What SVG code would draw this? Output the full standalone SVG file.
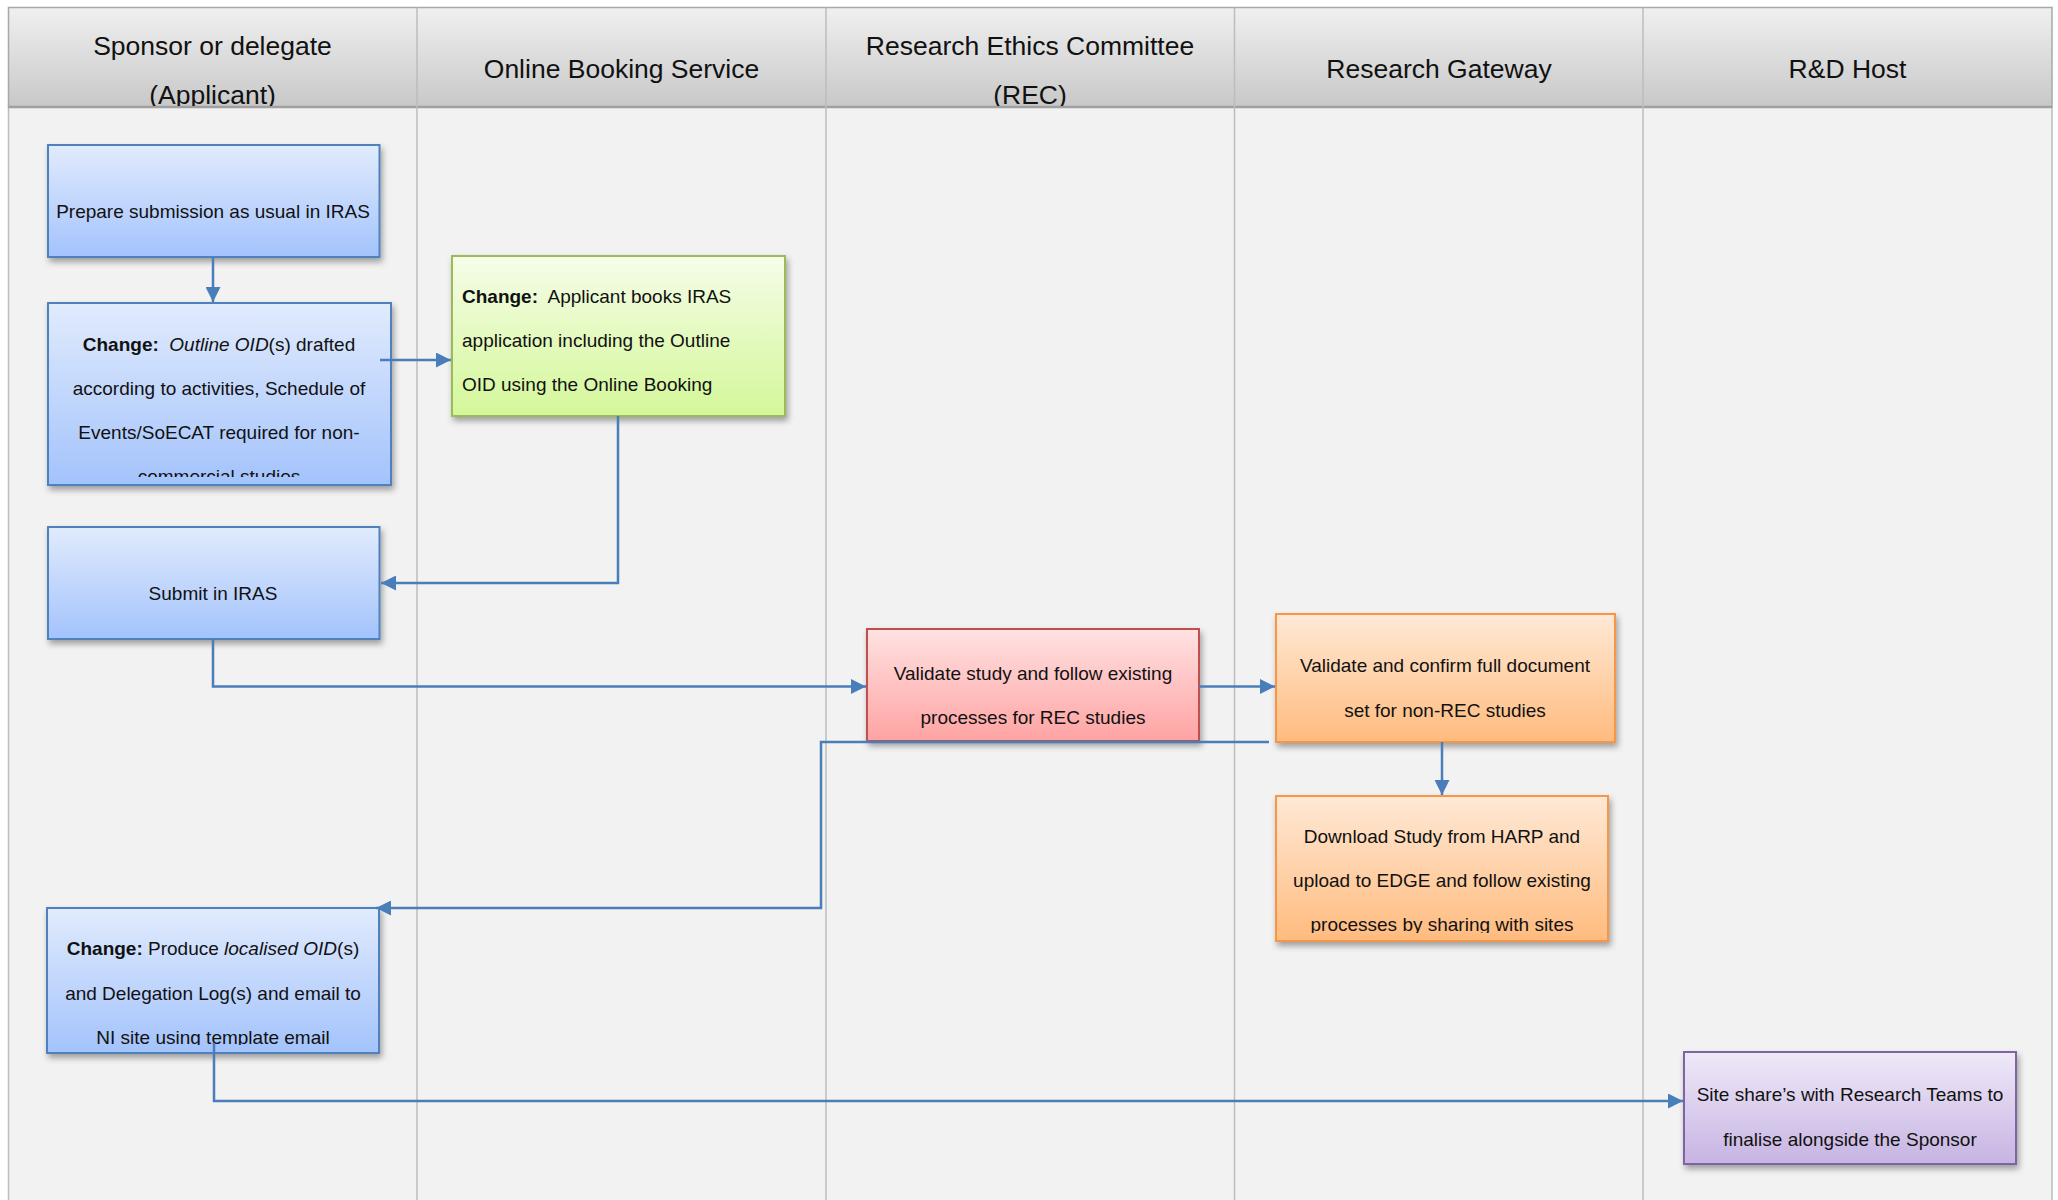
<svg xmlns="http://www.w3.org/2000/svg" width="2058" height="1200" viewBox="0 0 2058 1200">
<style>
.hdr{font-family:"Liberation Sans",Arial,sans-serif;font-size:26.5px;fill:#111;text-anchor:middle}
.t{font-family:"Liberation Sans",Arial,sans-serif;font-size:19px;fill:#111;text-anchor:middle}
.tl{font-family:"Liberation Sans",Arial,sans-serif;font-size:19px;fill:#111}
.b{font-weight:bold}
.i{font-style:italic}
.div{stroke:#bdbdbd;stroke-width:1.5}
.con{fill:none;stroke:#4a7ebb;stroke-width:2.5}
.box{stroke-width:2}
</style>
<defs>
<linearGradient id="gHdr" x1="0" y1="0" x2="0" y2="1"><stop offset="0" stop-color="#f0f0f0"/><stop offset="1" stop-color="#c8c8c8"/></linearGradient>
<linearGradient id="gBlue" x1="0" y1="0" x2="0" y2="1"><stop offset="0" stop-color="#e1ebfd"/><stop offset="1" stop-color="#a3c3fc"/></linearGradient>
<linearGradient id="gGreen" x1="0" y1="0" x2="0" y2="1"><stop offset="0" stop-color="#f5fde8"/><stop offset="1" stop-color="#d4f799"/></linearGradient>
<linearGradient id="gRed" x1="0" y1="0" x2="0" y2="1"><stop offset="0" stop-color="#ffe2e2"/><stop offset="1" stop-color="#ffa3a3"/></linearGradient>
<linearGradient id="gOrange" x1="0" y1="0" x2="0" y2="1"><stop offset="0" stop-color="#ffe9d6"/><stop offset="1" stop-color="#ffbb7e"/></linearGradient>
<linearGradient id="gPurple" x1="0" y1="0" x2="0" y2="1"><stop offset="0" stop-color="#efe9f8"/><stop offset="1" stop-color="#c7b4e3"/></linearGradient>
<filter id="sh" x="-10%" y="-10%" width="120%" height="130%"><feDropShadow dx="2" dy="4" stdDeviation="3" flood-color="#000" flood-opacity="0.35"/></filter>
<marker id="ah" viewBox="0 0 10 10" refX="10" refY="5" markerWidth="6.4" markerHeight="6" markerUnits="strokeWidth" orient="auto"><path d="M0,0 L10,5 L0,10 z" fill="#4a7ebb"/></marker>
<clipPath id="cHdr"><rect x="0" y="0" width="2058" height="106"/></clipPath>
<clipPath id="cB2"><rect x="40" y="300" width="360" height="177"/></clipPath>
<clipPath id="cO2"><rect x="1270" y="790" width="345" height="143"/></clipPath>
<clipPath id="cB4"><rect x="40" y="905" width="345" height="140"/></clipPath>
</defs>

<rect x="0" y="0" width="2058" height="1200" fill="#ffffff"/>
<g id="lanes">
<rect x="8.5" y="107" width="2043.5" height="1100" fill="#f2f2f2" stroke="#bdbdbd" stroke-width="1.5"/>
<rect x="8.5" y="7.5" width="2043.5" height="99.5" fill="url(#gHdr)" stroke="#a8a8a8" stroke-width="1.5"/>
<line x1="8.5" y1="107" x2="2052" y2="107" stroke="#a0a0a0" stroke-width="2.5"/>
<line class="div" x1="417" y1="7.5" x2="417" y2="1200"/>
<line class="div" x1="826" y1="7.5" x2="826" y2="1200"/>
<line class="div" x1="1234.5" y1="7.5" x2="1234.5" y2="1200"/>
<line class="div" x1="1643" y1="7.5" x2="1643" y2="1200"/>
<g clip-path="url(#cHdr)">
<text class="hdr" x="212.5" y="55">Sponsor or delegate</text>
<text class="hdr" x="212.5" y="104">(Applicant)</text>
<text class="hdr" x="621.5" y="78">Online Booking Service</text>
<text class="hdr" x="1030" y="55">Research Ethics Committee</text>
<text class="hdr" x="1030" y="104">(REC)</text>
<text class="hdr" x="1439" y="78">Research Gateway</text>
<text class="hdr" x="1847.5" y="78">R&amp;D Host</text>
</g>
</g>

<g id="n1">
<rect class="box" x="48" y="145" width="331.5" height="112" fill="url(#gBlue)" stroke="#4f81bd" filter="url(#sh)"/>
<text class="t" x="213" y="218">Prepare submission as usual in IRAS</text>
</g>

<g id="n2">
<rect class="box" x="48" y="303" width="343" height="182" fill="url(#gBlue)" stroke="#4f81bd" filter="url(#sh)"/>
<g clip-path="url(#cB2)">
<text class="t" x="219" y="351" xml:space="preserve"><tspan class="b">Change:</tspan>  <tspan class="i">Outline OID</tspan>(s) drafted</text>
<text class="t" x="219" y="395">according to activities, Schedule of</text>
<text class="t" x="219" y="439">Events/SoECAT required for non-</text>
<text class="t" x="219" y="483">commercial studies</text>
</g>
</g>

<g id="n3">
<rect class="box" x="452" y="256" width="333" height="160" fill="url(#gGreen)" stroke="#9bbb59" filter="url(#sh)"/>
<text class="tl" x="462" y="303" xml:space="preserve"><tspan class="b">Change:</tspan>  Applicant books IRAS</text>
<text class="tl" x="462" y="347">application including the Outline</text>
<text class="tl" x="462" y="391">OID using the Online Booking</text>
</g>

<g id="n4">
<rect class="box" x="48" y="527" width="331.5" height="112" fill="url(#gBlue)" stroke="#4f81bd" filter="url(#sh)"/>
<text class="t" x="213" y="600">Submit in IRAS</text>
</g>

<g id="n5">
<rect class="box" x="867" y="629" width="332" height="112" fill="url(#gRed)" stroke="#c0504d" filter="url(#sh)"/>
<text class="t" x="1033" y="680">Validate study and follow existing</text>
<text class="t" x="1033" y="724">processes for REC studies</text>
</g>

<g id="n6">
<rect class="box" x="1276" y="614" width="339" height="128" fill="url(#gOrange)" stroke="#f79646" filter="url(#sh)"/>
<text class="t" x="1445" y="672">Validate and confirm full document</text>
<text class="t" x="1445" y="717">set for non-REC studies</text>
</g>

<g id="n7">
<rect class="box" x="1276" y="796" width="332" height="145" fill="url(#gOrange)" stroke="#f79646" filter="url(#sh)"/>
<g clip-path="url(#cO2)">
<text class="t" x="1442" y="843">Download Study from HARP and</text>
<text class="t" x="1442" y="887">upload to EDGE and follow existing</text>
<text class="t" x="1442" y="931">processes by sharing with sites</text>
</g>
</g>

<g id="n8">
<rect class="box" x="47" y="908" width="332" height="145" fill="url(#gBlue)" stroke="#4f81bd" filter="url(#sh)"/>
<g clip-path="url(#cB4)">
<text class="t" x="213" y="955"><tspan class="b">Change:</tspan> Produce <tspan class="i">localised OID</tspan>(s)</text>
<text class="t" x="213" y="1000">and Delegation Log(s) and email to</text>
<text class="t" x="213" y="1044">NI site using template email</text>
</g>
</g>

<g id="n9">
<rect class="box" x="1684" y="1052" width="332" height="112" fill="url(#gPurple)" stroke="#8064a2" filter="url(#sh)"/>
<text class="t" x="1850" y="1101">Site share’s with Research Teams to</text>
<text class="t" x="1850" y="1146">finalise alongside the Sponsor</text>
</g>

<g id="connectors">
<path class="con" d="M213,257 V302" marker-end="url(#ah)"/>
<path class="con" d="M380,360 H451" marker-end="url(#ah)"/>
<path class="con" d="M618,416 V583 H381" marker-end="url(#ah)"/>
<path class="con" d="M213,639 V686.5 H866" marker-end="url(#ah)"/>
<path class="con" d="M1199,686.5 H1275" marker-end="url(#ah)"/>
<path class="con" d="M1442,742 V795" marker-end="url(#ah)"/>
<path class="con" d="M1269,742 H821 V908 H376" marker-end="url(#ah)"/>
<path class="con" d="M214,1043 V1101 H1683" marker-end="url(#ah)"/>
</g>
</svg>
